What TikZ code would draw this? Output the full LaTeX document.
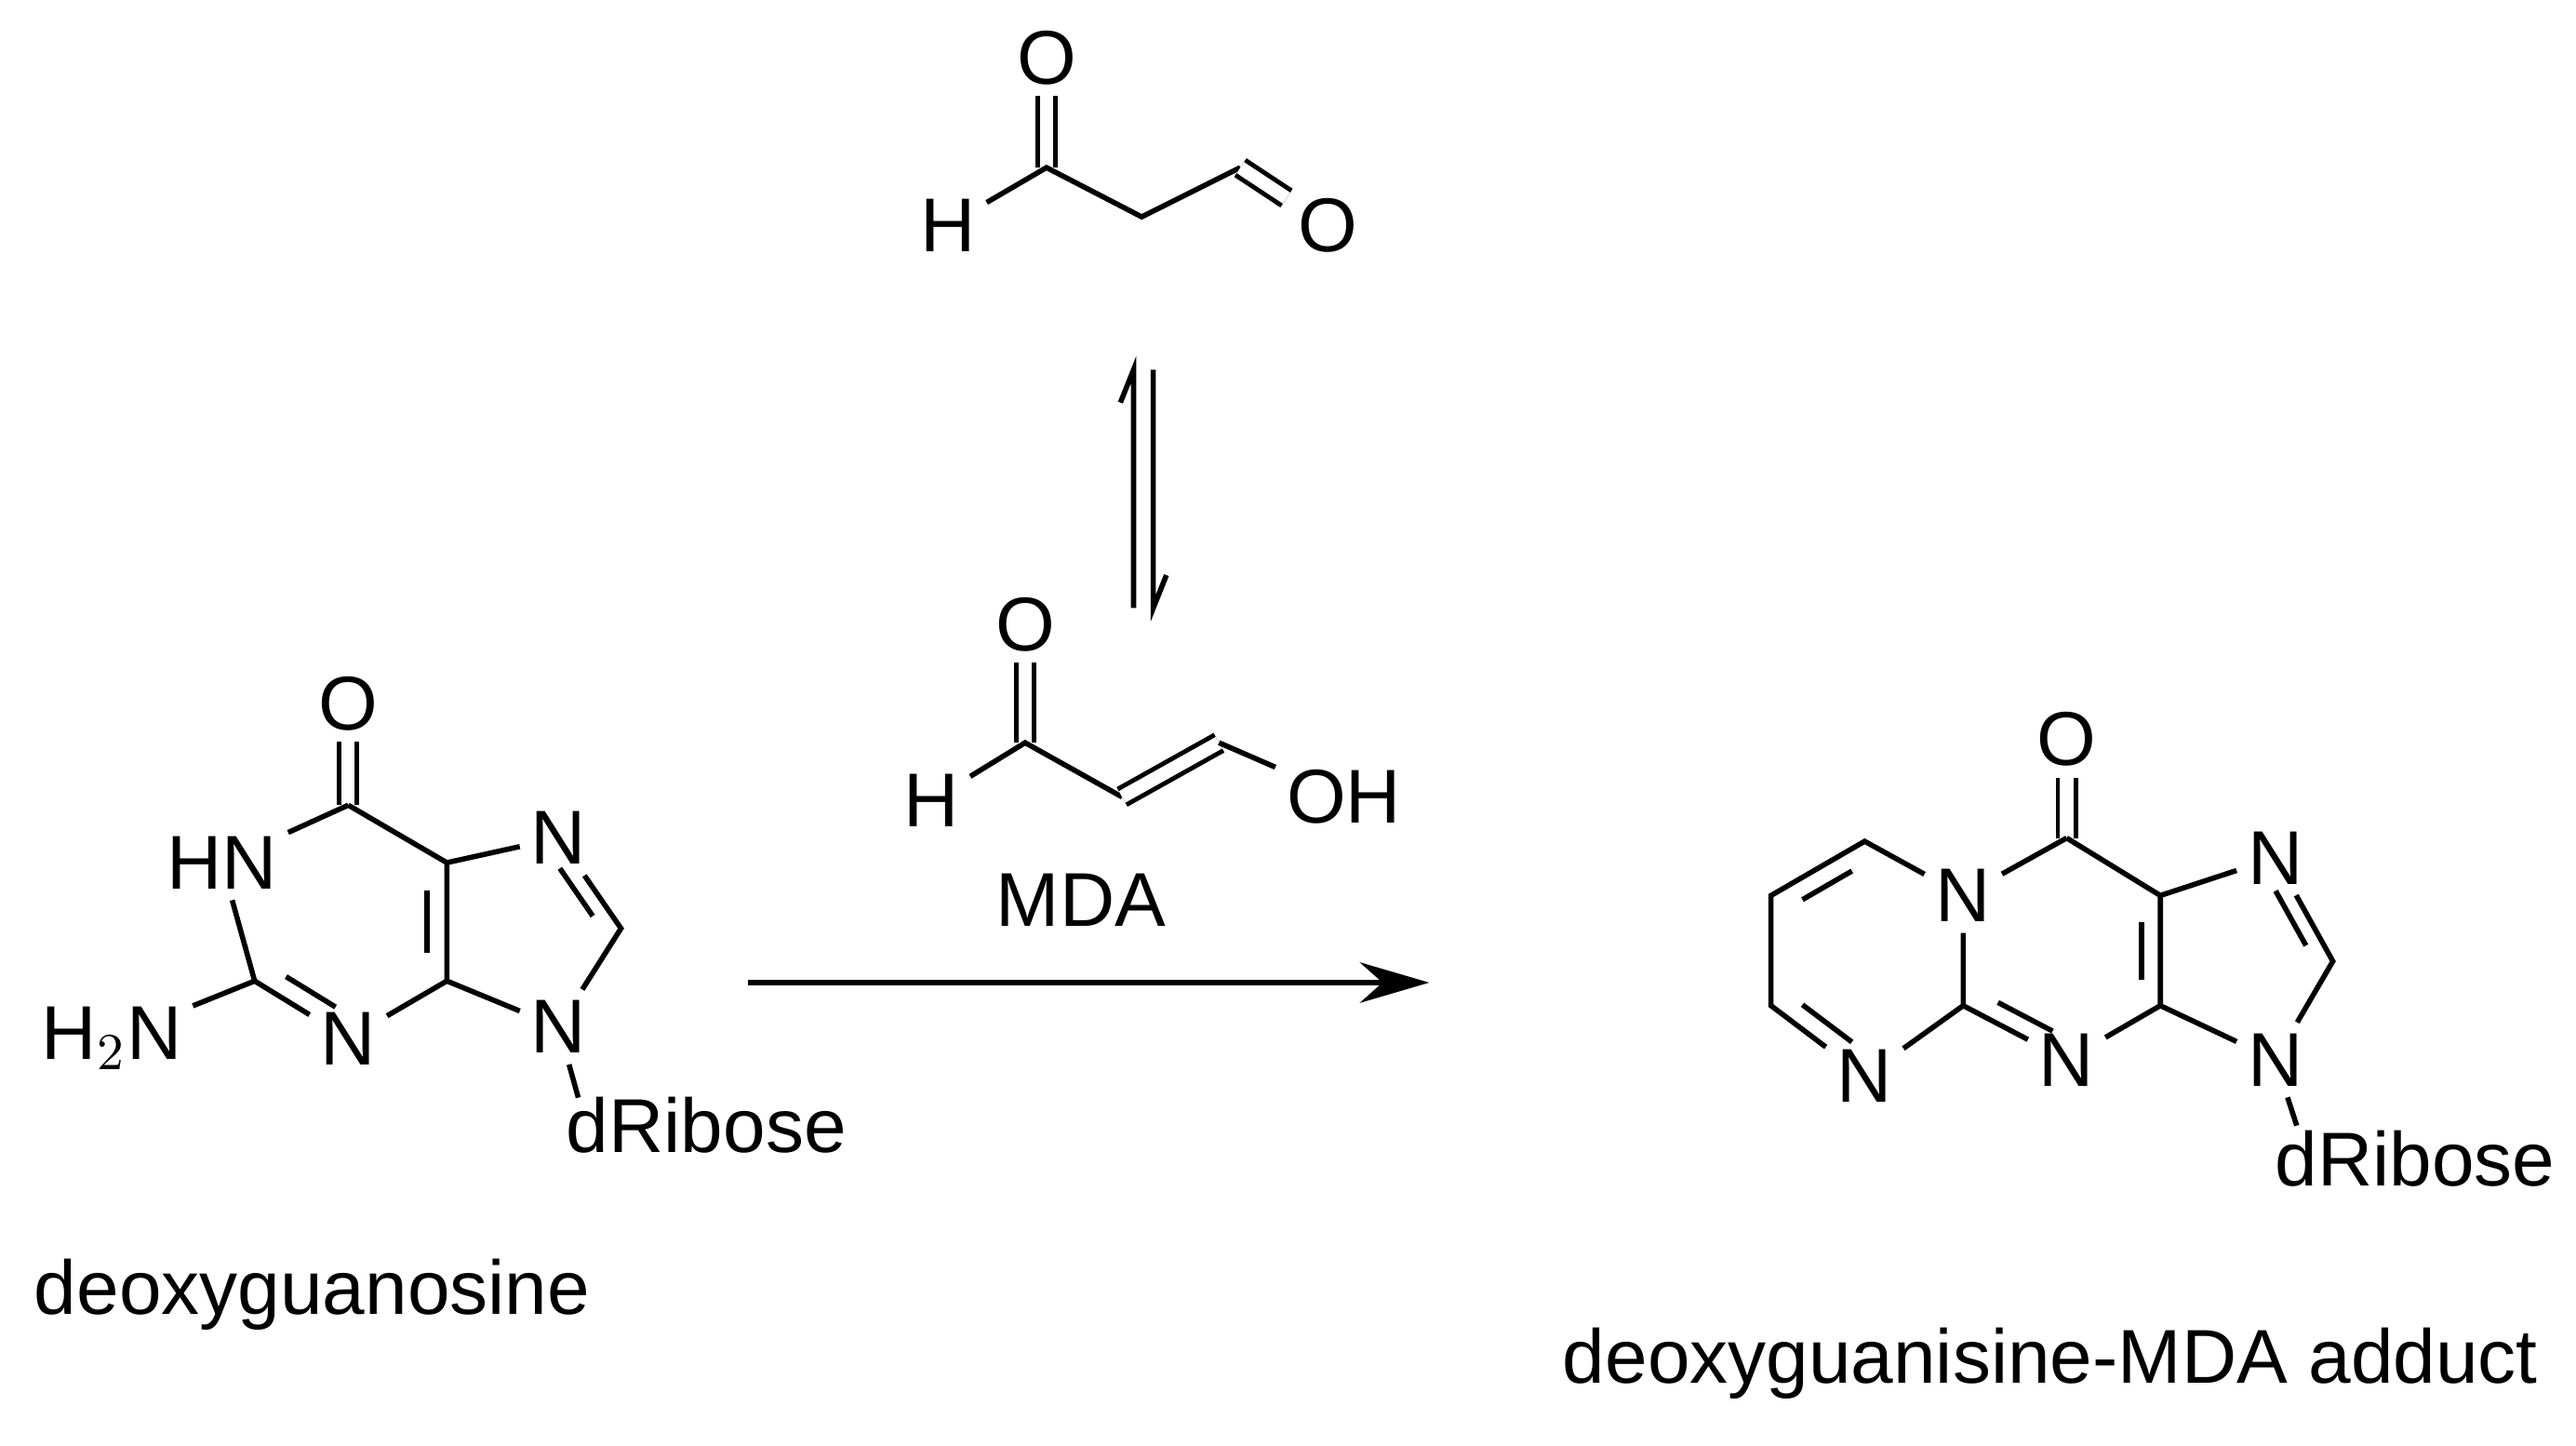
\documentclass[tikz,border=0pt]{standalone}
\usepackage{fontspec}
\setmainfont{Liberation Sans}
\usetikzlibrary{calc,arrows.meta}
\begin{document}
\begin{tikzpicture}[x=0.01cm,y=-0.01cm,line width=0.9pt,
  atm/.style={inner sep=1.5pt,font=\fontsize{13.2}{15}\selectfont},
  lab/.style={font=\fontsize{13.2}{15}\selectfont},
  dbl/.style={double,double distance=0.08cm,line width=0.8pt}]
\useasboundingbox (0,0) rectangle (1568,880);
\newcommand\inb[3]{\draw ($($(#1)!0.17!(#2)$)!0.2!(#3)$) -- ($($(#2)!0.17!(#1)$)!0.2!(#3)$);}
% malondialdehyde
\node[atm] (mO1) at (637,35) {O};
\coordinate (mC1) at (637,102);
\node[atm] (mH) at (577,137) {H};
\coordinate (mC2) at (695,132);
\coordinate (mC3) at (755,102);
\node[atm] (mO2) at (808,137) {O};
\draw[dbl] (mC1) -- (mO1);
\draw (mH) -- (mC1) -- (mC2) -- (mC3);
\draw[dbl] (mC3) -- (mO2);
% equilibrium
\coordinate (e1) at (690,370); \coordinate (e2) at (690,225);
\coordinate (e3) at (702,225); \coordinate (e4) at (702,370);
\draw (e1) -- (e2) -- ++(-8,20);
\draw (e3) -- (e4) -- ++(8,-20);
% MDA enol
\node[atm] (nO) at (624,380) {O};
\coordinate (nC1) at (624,452);
\node[atm] (nH) at (567,487) {H};
\coordinate (nC2) at (683,485);
\coordinate (nC3) at (742,452);
\node[atm] (nOH) at (818,485) {OH};
\draw[dbl] (nC1) -- (nO);
\draw (nH) -- (nC1) -- (nC2);
\draw[dbl] (nC2) -- (nC3);
\draw (nC3) -- (nOH);
\node[lab] (mda) at (658,548) {MDA};
% deoxyguanosine
\node[atm] (gO) at (212,428) {O};
\coordinate (gC6) at (212,490);
\node[atm] (gN1) at (135,525) {HN};
\coordinate (gC2) at (155,597);
\node[atm] (gN3) at (212,632) {N};
\coordinate (gC4) at (272,597);
\coordinate (gC5) at (272,525);
\node[atm] (gN7) at (340,510) {N};
\coordinate (gC8) at (378,565);
\node[atm] (gN9) at (340,625) {N};
\node[atm] (gNH2) at (68,632) {H$_2$N};
\node[atm] (gR) at (430,685) {dRibose};
\coordinate (gc) at (212,560);
\coordinate (gc5) at (318,565);
\draw[dbl] (gC6) -- (gO);
\draw (gC6) -- (gN1) -- (gC2) -- (gN3) -- (gC4) -- (gC5) -- (gC6);
\inb{gC2}{gN3}{gc}
\inb{gC4}{gC5}{gc}
\draw (gC5) -- (gN7) -- (gC8) -- (gN9) -- (gC4);
\inb{gN7}{gC8}{gc5}
\draw (gC2) -- (gNH2);
\draw (gN9) -- (352,668);
% reaction arrow
\coordinate (ra) at (455,598); \coordinate (rb) at (870,598);
\draw[-{Stealth[length=12pt,width=7pt]}] (ra) -- (rb);
% product
\node[atm] (pO) at (1258,450) {O};
\coordinate (pC) at (1258,510);
\node[atm] (pN1) at (1195,545) {N};
\coordinate (pCa) at (1135,512);
\coordinate (pCb) at (1078,545);
\coordinate (pCc) at (1078,612);
\node[atm] (pN2) at (1135,655) {N};
\coordinate (pCd) at (1195,612);
\node[atm] (pN3) at (1258,645) {N};
\coordinate (pC4) at (1315,612);
\coordinate (pC5) at (1315,545);
\node[atm] (pN7) at (1385,522) {N};
\coordinate (pC8) at (1420,585);
\node[atm] (pN9) at (1385,645) {N};
\node[atm] (pR) at (1470,705) {dRibose};
\coordinate (pcl) at (1135,580);
\coordinate (pcm) at (1258,580);
\coordinate (pc5) at (1362,580);
\draw[dbl] (pC) -- (pO);
\draw (pC) -- (pN1) -- (pCa) -- (pCb) -- (pCc) -- (pN2) -- (pCd) -- (pN1);
\inb{pCa}{pCb}{pcl}
\inb{pCc}{pN2}{pcl}
\draw (pCd) -- (pN3) -- (pC4) -- (pC5) -- (pC);
\inb{pCd}{pN3}{pcm}
\inb{pC4}{pC5}{pcm}
\draw (pC5) -- (pN7) -- (pC8) -- (pN9) -- (pC4);
\inb{pN7}{pC8}{pc5}
\draw (pN9) -- (1398,685);
% captions
\node[lab] (cap1) at (190,788) {deoxyguanosine};
\node[lab] (cap2) at (1248,830) {deoxyguanisine-MDA adduct};
\end{tikzpicture}
\end{document}
